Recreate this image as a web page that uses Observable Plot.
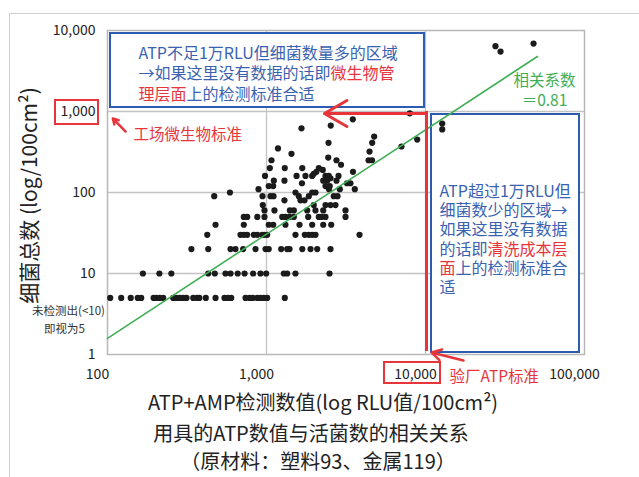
<!DOCTYPE html>
<html>
<head>
<meta charset="utf-8">
<script src="https://cdn.jsdelivr.net/npm/d3@7"></script>
<script src="https://cdn.jsdelivr.net/npm/@observablehq/plot@0.6"></script>
<style>
  html, body { margin: 0; padding: 0; background: #fff; }
  #wrap { position: relative; width: 639px; height: 477px; overflow: hidden; }
  #border { position: absolute; left: 9px; top: 13px; right: -2px; bottom: -2px;
            border-left: 1.5px solid #cfcfcf; border-top: 1.5px solid #cfcfcf; }
  #wrap svg { position: absolute; left: 0; top: 0; }
</style>
</head>
<body>
<div id="wrap"><div id="border"></div></div>
<script>
// Tick values of both log axes
const xTicks = [100, 1000, 10000, 100000];
const yTicks = [1, 10, 100, 1000, 10000];

// Hygiene standards
const atpStandard = 10000;   // RLU
const microStandard = 1000;  // CFU/100cm²

// Fitted power-law trend (end points)
const trendRLU = [100, 50600];
const trendCount = [1.58, 4775];

// Samples: [ATP+AMP RLU, total bacteria count]; "not detected" counted as 5
const samples = [
  // count 5
  [104,5],[122,5],[140,5],[155,5],[163,5],[195,5],[203,5],[213,5],[224,5],[259,5],
  [272,5],[285,5],[299,5],[314,5],[346,5],[366,5],[378,5],[415,5],[478,5],[544,5],
  [571,5],[600,5],[738,5],[782,5],[820,5],[875,5],[916,5],[962,5],[1010,5],[1303,5],
  // count 10
  [167,10],[212,10],[252,10],[430,10],[473,10],[552,10],[594,10],[659,10],[728,10],
  [824,10],[916,10],[995,10],[1285,10],[1349,10],[1521,10],[2490,10],
  // count 20
  [337,20],[430,20],[594,20],[638,20],[713,20],[853,20],[986,20],[1033,20],[1237,20],
  [1349,20],[1396,20],[1679,20],[1892,20],[2084,20],[2527,20],
  // count 30
  [424,30],[686,30],[720,30],[756,30],[832,30],[875,30],[940,30],[971,30],[1010,30],
  [1521,30],[1742,30],[1846,30],[1938,30],[2033,30],[3846,30],
  // count 40
  [478,40],[720,40],[1033,40],[1102,40],[1316,40],[1613,40],[1938,40],[2274,40],[2552,40],
  // count 50
  [720,50],[756,50],[875,50],[971,50],[1256,50],[1316,50],[1396,50],[1486,50],[1829,50],
  [2133,50],[2218,50],[2350,50],[3140,50],
  // count 60-80
  [971,60],[1122,60],[1403,60],[1486,60],[1803,60],[2033,60],[2274,60],[3140,60],
  [948,70],[1983,70],[2350,70],[2527,70],[2716,70],
  [1297,80],[1636,80],[1734,80],
  // count 90-160
  [469,90],[944,90],[1060,90],[1107,90],[1596,90],[1846,90],[2650,90],[2797,90],
  [589,100],[1521,100],[1938,100],[2033,100],
  [891,110],[2472,110],[2891,110],[3592,110],
  [1033,120],[1102,120],[2350,120],[2500,120],
  [1671,130],[3208,130],[3373,130],
  [1112,140],[1297,140],[2274,140],[2409,140],[2755,140],
  [2527,150],
  [979,160],[1545,160],[1758,160],[1938,160],[2350,160],[2465,160],[2838,160],
  // count 170-950
  [1983,170],[2061,180],[3499,180],[2259,190],
  [1050,200],[1303,200],[1679,200],[2133,200],
  [2942,220],[1075,250],[2755,250],[4385,250],[4609,250],
  [2445,270],[1436,300],[4446,320],[1181,350],[7063,370],
  [2455,410],[4620,410],[8868,450],[4755,490],
  [1660,620],[2536,670],[3490,800],[7965,950],
  // high ATP
  [12740,600],[12740,710],
  [27540,6400],[29650,5500],[47800,6900]
];

const FONT = '"Noto Sans CJK SC", "Noto Sans", sans-serif';
const BLUE = "#3a62b0";
const BOX_BLUE = "#2d5bb0";
const RED = "#e8353b";
const GREEN = "#3fae55";
const GRID = "#c3c3c3";
const fmt = d3.format(",");

// width of a text run as the SVG renders it, used to place coloured runs side by side
const probe = d3.select("body").append("svg").attr("width", 0).attr("height", 0)
  .style("position", "absolute");
function runWidth(str, size) {
  const t = probe.append("text").attr("font-family", FONT).attr("font-size", size).text(str);
  const w = t.node().getComputedTextLength();
  t.remove();
  return w;
}

// multi-line text whose lines are made of coloured runs
function richText(lines, {x, y, dx, dy, lineHeight, fontSize}) {
  const marks = [];
  lines.forEach((line, i) => {
    let offset = 0;
    for (const [str, color] of line) {
      marks.push(Plot.text([str], {
        x: () => x, y: () => y, text: d => d,
        textAnchor: "start", dx: dx + offset, dy: dy + i * lineHeight,
        fill: color, fontSize, fontFamily: FONT
      }));
      offset += runWidth(str, fontSize);
    }
  });
  return marks;
}

const lowAtpNote = [
  [["ATP不足1万RLU但细菌数量多的区域", BLUE]],
  [["→如果这里没有数据的话即", BLUE], ["微生物管", RED]],
  [["理层面", RED], ["上的检测标准合适", BLUE]]
];
const highAtpNote = [
  [["ATP超过1万RLU但", BLUE]],
  [["细菌数少的区域→", BLUE]],
  [["如果这里没有数据", BLUE]],
  [["的话即", BLUE], ["清洗成本层", RED]],
  [["面", RED], ["上的检测标准合", BLUE]],
  [["适", BLUE]]
];

const chart = Plot.plot({
  width: 639,
  height: 477,
  marginLeft: 107,
  marginRight: 55,
  marginTop: 30,
  marginBottom: 123,
  x: {type: "log", domain: [100, 100000], axis: null},
  y: {type: "log", domain: [1, 10000], axis: null},
  style: {fontFamily: FONT, background: "transparent", overflow: "visible", color: "#222"},
  marks: [
    // grid and plot frame
    Plot.ruleX(xTicks.slice(1, -1), {stroke: GRID, strokeWidth: 1.3}),
    Plot.ruleY(yTicks.slice(1, -1), {stroke: GRID, strokeWidth: 1.3}),
    Plot.frame({stroke: "#b8b8b8", strokeWidth: 1.5}),

    // region boxes
    Plot.rect([0], {x1: 100, x2: atpStandard, y1: microStandard, y2: 10000,
      insetLeft: 3, insetRight: 1, insetTop: 3, insetBottom: 4,
      fill: "white", stroke: BOX_BLUE, strokeWidth: 2}),
    Plot.rect([0], {x1: atpStandard, x2: 100000, y1: 1, y2: microStandard,
      insetLeft: 6, insetRight: 5, insetTop: 3, insetBottom: 2,
      fill: "white", stroke: BOX_BLUE, strokeWidth: 2}),

    // samples
    Plot.dot(samples, {x: d => d[0], y: d => d[1], r: 3.1, fill: "#1b1b1b"}),

    // trend line
    Plot.line(trendRLU, {x: d => d, y: (d, i) => trendCount[i], stroke: GREEN, strokeWidth: 1.6}),

    // standards
    Plot.ruleX([atpStandard], {y1: 1, y2: microStandard, stroke: RED, strokeWidth: 3, dx: 1, insetTop: -3}),
    Plot.arrow([microStandard], {x1: atpStandard, x2: 2280, y1: d => d, y2: d => d,
      stroke: RED, strokeWidth: 3, headLength: 13, dy: 2, dx: 1}),

    // axis tick labels
    Plot.text(yTicks, {y: d => d, frameAnchor: "left", textAnchor: "end", dx: -12,
      text: d => fmt(d), fontSize: 14, fill: "#222"}),
    Plot.text(xTicks, {x: d => d, frameAnchor: "bottom", dy: 24, dx: -10,
      text: d => fmt(d), fontSize: 14, fill: "#222"}),

    // highlighted tick labels
    Plot.rect([microStandard], {x1: 100, x2: 100, y1: d => d, y2: d => d,
      insetLeft: -52, insetRight: 9, insetTop: -11, insetBottom: -13,
      fill: "none", stroke: RED, strokeWidth: 2}),
    Plot.rect([atpStandard], {x1: d => d, x2: d => d, y1: 1, y2: 1,
      insetLeft: -41, insetRight: -15, insetTop: 8, insetBottom: -29,
      fill: "none", stroke: RED, strokeWidth: 2}),

    // axis titles and caption
    Plot.text(["细菌总数 (log/100cm²)"], {frameAnchor: "left", textAnchor: "middle", rotate: -90,
      dx: -77, dy: 3, fontSize: 21, fill: "#222"}),
    Plot.text(["ATP+AMP检测数值(log RLU值/100cm²)"], {frameAnchor: "bottom", dy: 55, dx: -23,
      fontSize: 20, fill: "#222"}),
    Plot.text(["用具的ATP数值与活菌数的相关关系"], {frameAnchor: "bottom", dy: 86, dx: -35,
      fontSize: 20, fill: "#222"}),
    Plot.text(["（原材料：塑料93、金属119）"], {frameAnchor: "bottom", dy: 114, dx: -28,
      fontSize: 20, fill: "#222"}),

    // note on undetected samples
    Plot.text(["未检测出(<10)"], {frameAnchor: "bottom-left", dx: -39, dy: -40,
      textAnchor: "middle", fontSize: 11.5, fill: "#333"}),
    Plot.text(["即视为5"], {frameAnchor: "bottom-left", dx: -43, dy: -22,
      textAnchor: "middle", fontSize: 11.5, fill: "#333"}),

    // standard labels
    Plot.text(["工场微生物标准"], {x: 100, y: microStandard, dx: 26, dy: 24,
      textAnchor: "start", fontSize: 15.5, fill: RED}),
    Plot.arrow([0], {x1: 130, y1: 566, x2: 108, y2: 820, stroke: RED, strokeWidth: 2.5, headLength: 10}),
    Plot.text(["验厂ATP标准"], {x: atpStandard, y: 1, dx: 24, dy: 23,
      textAnchor: "start", fontSize: 15.5, fill: RED}),
    Plot.arrow([0], {x1: 17340, y1: 0.843, x2: 10910, y2: 1.06, stroke: RED, strokeWidth: 2.5, headLength: 10}),

    // correlation coefficient
    Plot.text(["相关系数"], {x: 100000, y: 10000, dx: -40, dy: 51, fontSize: 15.5, fill: GREEN}),
    Plot.text(["＝0.81"], {x: 100000, y: 10000, dx: -40, dy: 71, fontSize: 15.5, fill: GREEN}),

    // region notes
    ...richText(lowAtpNote, {x: 100, y: 10000, dx: 31, dy: 23, lineHeight: 20.5, fontSize: 16}),
    ...richText(highAtpNote, {x: atpStandard, y: microStandard, dx: 14, dy: 80, lineHeight: 19.3, fontSize: 16})
  ]
});

document.getElementById("wrap").appendChild(chart);
</script>
</body>
</html>
